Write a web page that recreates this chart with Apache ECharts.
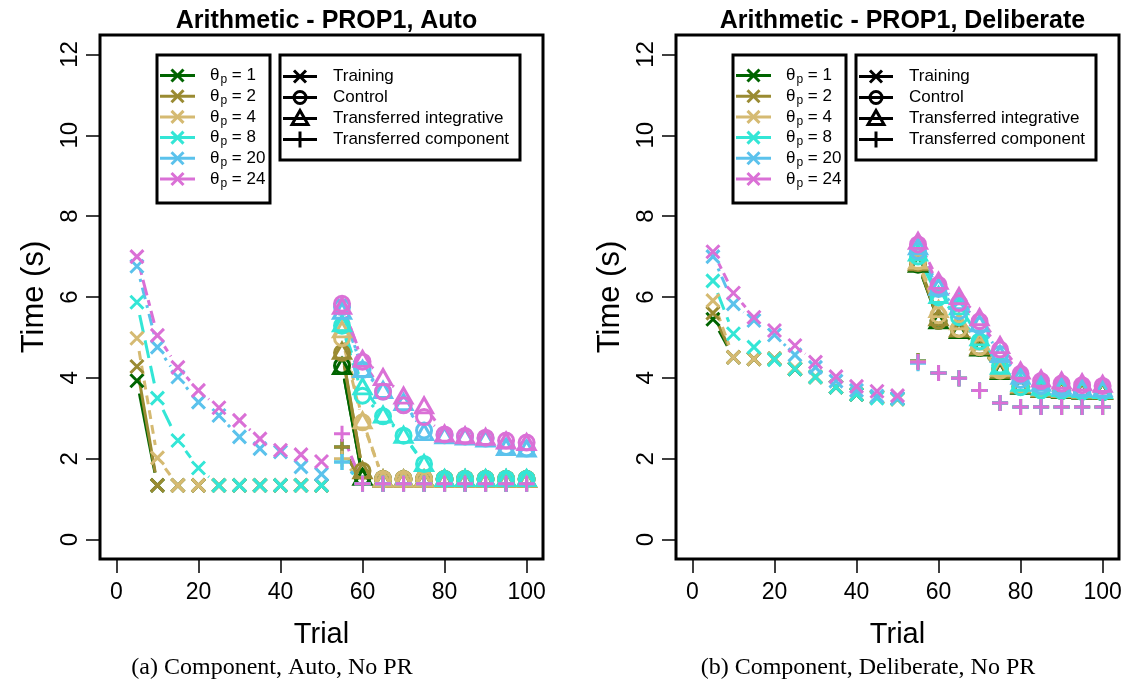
<!DOCTYPE html>
<html><head><meta charset="utf-8">
<script src="https://cdn.jsdelivr.net/npm/echarts@6/dist/echarts.min.js"></script>
<style>html,body{margin:0;padding:0;background:#fff}#c{width:1127px;height:692px}</style>
</head><body><div id="c"></div>
<script>
// ---------- data ----------
const trainTrials = [5, 10, 15, 20, 25, 30, 35, 40, 45, 50];
const transferTrials = [55, 60, 65, 70, 75, 80, 85, 90, 95, 100];
const thetaLabels = ['1', '2', '4', '8', '20', '24'];
const xTickValues = [0, 20, 40, 60, 80, 100];
const yTickValues = [0, 2, 4, 6, 8, 10, 12];
const panelTitles = ['Arithmetic - PROP1, Auto', 'Arithmetic - PROP1, Deliberate'];
const captions = ['(a) Component, Auto, No PR', '(b) Component, Deliberate, No PR'];
const conditionLabels = ['Training', 'Control', 'Transferred integrative', 'Transferred component'];

// Auto panel (rows: theta 1,2,4,8,20,24)
const autoTraining = [
  [3.93, 1.34, 1.34, 1.34, 1.34, 1.34, 1.34, 1.34, 1.34, 1.34],
  [4.28, 1.34, 1.34, 1.34, 1.34, 1.34, 1.34, 1.34, 1.34, 1.34],
  [4.98, 2.02, 1.34, 1.34, 1.34, 1.34, 1.34, 1.34, 1.34, 1.34],
  [5.87, 3.50, 2.45, 1.77, 1.34, 1.34, 1.34, 1.34, 1.34, 1.34],
  [6.76, 4.76, 4.02, 3.40, 3.07, 2.54, 2.25, 2.17, 1.80, 1.62],
  [7.00, 5.05, 4.26, 3.69, 3.26, 2.95, 2.49, 2.21, 2.10, 1.93]
];
const autoControl = [
  [4.30, 1.55, 1.50, 1.50, 1.50, 1.50, 1.50, 1.50, 1.50, 1.50],
  [4.62, 1.70, 1.50, 1.50, 1.50, 1.50, 1.50, 1.50, 1.50, 1.50],
  [4.98, 2.90, 1.50, 1.50, 1.50, 1.50, 1.50, 1.50, 1.50, 1.50],
  [5.29, 3.56, 3.05, 2.57, 1.87, 1.50, 1.50, 1.50, 1.50, 1.50],
  [5.75, 4.20, 3.66, 3.33, 2.70, 2.58, 2.55, 2.50, 2.29, 2.25],
  [5.83, 4.40, 3.66, 3.32, 3.03, 2.60, 2.56, 2.52, 2.45, 2.40]
];
const autoIntegrative = [
  [4.29, 1.55, 1.50, 1.50, 1.50, 1.50, 1.50, 1.50, 1.50, 1.50],
  [4.67, 1.71, 1.50, 1.50, 1.50, 1.50, 1.50, 1.50, 1.50, 1.50],
  [5.20, 2.95, 1.50, 1.50, 1.50, 1.50, 1.50, 1.50, 1.50, 1.50],
  [5.35, 3.79, 3.09, 2.59, 1.89, 1.52, 1.52, 1.52, 1.52, 1.52],
  [5.66, 4.22, 3.70, 3.40, 2.66, 2.58, 2.55, 2.50, 2.29, 2.25],
  [5.78, 4.47, 4.02, 3.56, 3.32, 2.62, 2.58, 2.54, 2.45, 2.41]
];
const autoComponent = [
  [2.29, 1.38, 1.38, 1.38, 1.38, 1.38, 1.38, 1.38, 1.38, 1.38],
  [2.29, 1.38, 1.38, 1.38, 1.38, 1.38, 1.38, 1.38, 1.38, 1.38],
  [2.00, 1.38, 1.38, 1.38, 1.38, 1.38, 1.38, 1.38, 1.38, 1.38],
  [1.92, 1.38, 1.38, 1.38, 1.38, 1.38, 1.38, 1.38, 1.38, 1.38],
  [1.92, 1.38, 1.38, 1.38, 1.38, 1.38, 1.38, 1.38, 1.38, 1.38],
  [2.62, 1.38, 1.38, 1.38, 1.38, 1.38, 1.38, 1.38, 1.38, 1.38]
];

// Deliberate panel
const delibTraining = [
  [5.45, 4.51, 4.47, 4.47, 4.22, 4.02, 3.77, 3.59, 3.52, 3.48],
  [5.60, 4.51, 4.47, 4.47, 4.22, 4.02, 3.77, 3.59, 3.52, 3.48],
  [5.91, 4.51, 4.47, 4.47, 4.24, 4.02, 3.78, 3.60, 3.52, 3.48],
  [6.40, 5.09, 4.76, 4.45, 4.22, 4.02, 3.77, 3.59, 3.50, 3.48],
  [7.00, 5.83, 5.42, 5.06, 4.57, 4.26, 3.92, 3.69, 3.55, 3.50],
  [7.12, 6.10, 5.50, 5.17, 4.80, 4.39, 4.03, 3.79, 3.67, 3.56]
];
const delibControl = [
  [6.80, 5.41, 5.20, 4.74, 4.18, 3.78, 3.70, 3.68, 3.66, 3.65],
  [6.84, 5.41, 5.21, 4.76, 4.18, 3.80, 3.71, 3.69, 3.67, 3.66],
  [6.88, 5.55, 5.21, 4.76, 4.18, 3.82, 3.72, 3.70, 3.68, 3.67],
  [7.00, 5.99, 5.50, 4.90, 4.30, 3.77, 3.69, 3.68, 3.66, 3.65],
  [7.14, 6.20, 5.65, 5.29, 4.59, 3.95, 3.80, 3.73, 3.72, 3.69],
  [7.30, 6.30, 5.85, 5.40, 4.70, 4.10, 3.92, 3.86, 3.82, 3.80]
];
const delibIntegrative = [
  [6.82, 5.42, 5.18, 4.75, 4.17, 3.80, 3.72, 3.70, 3.68, 3.67],
  [6.86, 5.50, 5.22, 4.78, 4.20, 3.82, 3.73, 3.71, 3.69, 3.68],
  [6.90, 5.70, 5.40, 4.90, 4.25, 3.85, 3.76, 3.73, 3.71, 3.70],
  [7.10, 6.05, 5.77, 5.00, 4.30, 3.88, 3.78, 3.75, 3.72, 3.70],
  [7.25, 6.25, 5.90, 5.35, 4.59, 4.05, 3.88, 3.80, 3.76, 3.74],
  [7.39, 6.40, 6.02, 5.50, 4.81, 4.18, 3.98, 3.93, 3.89, 3.85]
];
const delibComponent = [
  [4.42, 4.12, 3.99, 3.69, 3.38, 3.28, 3.28, 3.28, 3.28, 3.28],
  [4.41, 4.12, 3.99, 3.69, 3.38, 3.28, 3.28, 3.28, 3.28, 3.28],
  [4.40, 4.12, 3.99, 3.69, 3.38, 3.28, 3.28, 3.28, 3.28, 3.28],
  [4.38, 4.12, 3.99, 3.69, 3.38, 3.28, 3.28, 3.28, 3.28, 3.28],
  [4.36, 4.12, 3.99, 3.69, 3.38, 3.28, 3.28, 3.28, 3.28, 3.28],
  [4.39, 4.12, 3.99, 3.69, 3.38, 3.28, 3.28, 3.28, 3.28, 3.28]
];

// ---------- styles ----------
const colors = ['#006400', '#9a8b32', '#d5ba72', '#33e6d6', '#5bc2ec', '#da70d6'];
const dashes = [null, null, [9, 6], [18, 8], [3, 6, 12, 6], [6, 5, 16, 5]];
const FONT = 'Liberation Sans, Arial, Helvetica, sans-serif';
const LW = 3, GAP = 13;
const symbols = [
  {symbol: 'path://M0,0L10,10M10,0L0,10', size: 13},
  {symbol: 'circle', size: 15},
  {symbol: 'triangle', size: [17, 15]},
  {symbol: 'path://M5,0L5,10M0,5L10,5', size: 16}
];

const panels = [
  {conds: [autoTraining, autoControl, autoIntegrative, autoComponent]},
  {conds: [delibTraining, delibControl, delibIntegrative, delibComponent]}
];
const gridLefts = [100, 676];
const GW = 443, GT = 35, GH = 524;

function gapLine(g, pts, color, dash) {
  const segs = [];
  for (let k = 1; k < pts.length; k++) segs.push([pts[k - 1][0], pts[k - 1][1], pts[k][0], pts[k][1]]);
  return {
    type: 'custom', xAxisIndex: g, yAxisIndex: g, data: segs, silent: true, animation: false,
    encode: {x: [0, 2], y: [1, 3]},
    renderItem: function (params, api) {
      const a = api.coord([api.value(0), api.value(1)]);
      const b = api.coord([api.value(2), api.value(3)]);
      const dx = b[0] - a[0], dy = b[1] - a[1], L = Math.hypot(dx, dy);
      if (L <= 2 * GAP) return {type: 'group', children: []};
      const ux = dx / L, uy = dy / L;
      return {
        type: 'line',
        shape: {x1: a[0] + ux * GAP, y1: a[1] + uy * GAP, x2: b[0] - ux * GAP, y2: b[1] - uy * GAP},
        style: {stroke: color, lineWidth: LW, lineDash: dash || null, fill: null}
      };
    }
  };
}

const series = [];
panels.forEach((p, g) => {
  thetaLabels.forEach((t, i) => {
    p.conds.forEach((cond, c) => {
      const xs = c === 0 ? trainTrials : transferTrials;
      const pts = xs.map((x, k) => [x, cond[i][k]]);
      series.push(gapLine(g, pts, colors[i], dashes[i]));
      series.push({
        type: 'scatter', xAxisIndex: g, yAxisIndex: g, data: pts, silent: true, animation: false,
        symbol: symbols[c].symbol, symbolSize: symbols[c].size,
        itemStyle: {color: 'rgba(0,0,0,0)', borderColor: colors[i], borderWidth: LW, opacity: 1}
      });
    });
  });
});

const grids = gridLefts.map(l => ({left: l, top: GT, width: GW, height: GH, show: true,
  borderColor: '#000', borderWidth: 3, backgroundColor: 'transparent'}));

const xAxes = gridLefts.map((l, g) => ({
  type: 'value', gridIndex: g, min: -4, max: 104,
  name: 'Trial', nameLocation: 'middle', nameGap: 61,
  nameTextStyle: {fontSize: 29, fontFamily: FONT, color: '#000'},
  axisLine: {show: false, onZero: false},
  splitLine: {show: false},
  axisTick: {show: true, inside: false, length: 14, customValues: xTickValues, lineStyle: {color: '#000', width: 1.5}},
  axisLabel: {show: true, customValues: xTickValues, margin: 22, fontSize: 23, fontFamily: FONT, color: '#000'}
}));
const yAxes = gridLefts.map((l, g) => ({
  type: 'value', gridIndex: g, min: -0.48, max: 12.48,
  name: 'Time (s)', nameLocation: 'middle', nameGap: 50, nameRotate: 90,
  nameTextStyle: {fontSize: 31, fontFamily: FONT, color: '#000'},
  axisLine: {show: false, onZero: false},
  splitLine: {show: false},
  axisTick: {show: true, inside: false, length: 14, customValues: yTickValues, lineStyle: {color: '#000', width: 1.5}},
  axisLabel: {show: true, customValues: yTickValues, rotate: 90, margin: 18, fontSize: 24, fontFamily: FONT, color: '#000'}
}));

const titles = panelTitles.map((t, g) => ({
  text: t, left: gridLefts[g] + GW / 2, top: 4, textAlign: 'center',
  textStyle: {fontSize: 25, fontWeight: 'bold', fontFamily: FONT, color: '#000'}
}));

function legendGraphics(ox) {
  const els = [];
  els.push({type: 'rect', z: 100, shape: {x: 157 + ox, y: 55, width: 113, height: 148},
    style: {fill: '#fff', stroke: '#000', lineWidth: 3}});
  thetaLabels.forEach((t, i) => {
    const y = 75.5 + i * 20.7;
    const cx = 177.5 + ox, s = 6;
    els.push({type: 'line', z: 101, shape: {x1: 160 + ox, y1: y, x2: 195 + ox, y2: y}, style: {stroke: colors[i], lineWidth: LW}});
    els.push({type: 'line', z: 101, shape: {x1: cx - s, y1: y - s, x2: cx + s, y2: y + s}, style: {stroke: colors[i], lineWidth: LW}});
    els.push({type: 'line', z: 101, shape: {x1: cx - s, y1: y + s, x2: cx + s, y2: y - s}, style: {stroke: colors[i], lineWidth: LW}});
    els.push({type: 'text', z: 101, x: 210 + ox, y: y, style: {
      text: '{a|θ}{b|p}{a| = ' + t + '}', verticalAlign: 'middle', fill: '#000',
      rich: {a: {fontSize: 17, fontFamily: FONT, fill: '#000'}, b: {fontSize: 12, fontFamily: FONT, fill: '#000', padding: [9, 0, 0, 1]}}
    }});
  });
  els.push({type: 'rect', z: 100, shape: {x: 280 + ox, y: 55, width: 240, height: 105},
    style: {fill: '#fff', stroke: '#000', lineWidth: 3}});
  conditionLabels.forEach((t, i) => {
    const y = 76.5 + i * 21;
    const cx = 300 + ox;
    els.push({type: 'line', z: 101, shape: {x1: 283 + ox, y1: y, x2: 317 + ox, y2: y}, style: {stroke: '#000', lineWidth: LW}});
    if (i === 0) {
      els.push({type: 'line', z: 101, shape: {x1: cx - 6, y1: y - 6, x2: cx + 6, y2: y + 6}, style: {stroke: '#000', lineWidth: LW}});
      els.push({type: 'line', z: 101, shape: {x1: cx - 6, y1: y + 6, x2: cx + 6, y2: y - 6}, style: {stroke: '#000', lineWidth: LW}});
    } else if (i === 1) {
      els.push({type: 'circle', z: 101, shape: {cx: cx, cy: y, r: 6}, style: {fill: 'rgba(0,0,0,0)', stroke: '#000', lineWidth: LW}});
    } else if (i === 2) {
      els.push({type: 'polygon', z: 101, shape: {points: [[cx, y - 8], [cx + 8, y + 6], [cx - 8, y + 6]]}, style: {fill: 'rgba(0,0,0,0)', stroke: '#000', lineWidth: LW}});
    } else {
      els.push({type: 'line', z: 101, shape: {x1: cx, y1: y - 8, x2: cx, y2: y + 8}, style: {stroke: '#000', lineWidth: LW}});
    }
    els.push({type: 'text', z: 101, x: 333 + ox, y: y, style: {text: t, verticalAlign: 'middle', fill: '#000', fontSize: 17, fontFamily: FONT}});
  });
  return els;
}

const captionEls = captions.map((t, g) => ({
  type: 'text', z: 101, x: [272, 868][g], y: 668,
  style: {text: t, align: 'center', verticalAlign: 'middle', fill: '#000', fontSize: 24, fontFamily: 'Liberation Serif, Times New Roman, serif'}
}));

const chart = echarts.init(document.getElementById('c'), null, {renderer: 'canvas'});
chart.setOption({
  animation: false,
  backgroundColor: '#fff',
  title: titles,
  grid: grids,
  xAxis: xAxes,
  yAxis: yAxes,
  series: series,
  graphic: {elements: legendGraphics(0).concat(legendGraphics(576)).concat(captionEls)}
});
</script>
</body></html>
